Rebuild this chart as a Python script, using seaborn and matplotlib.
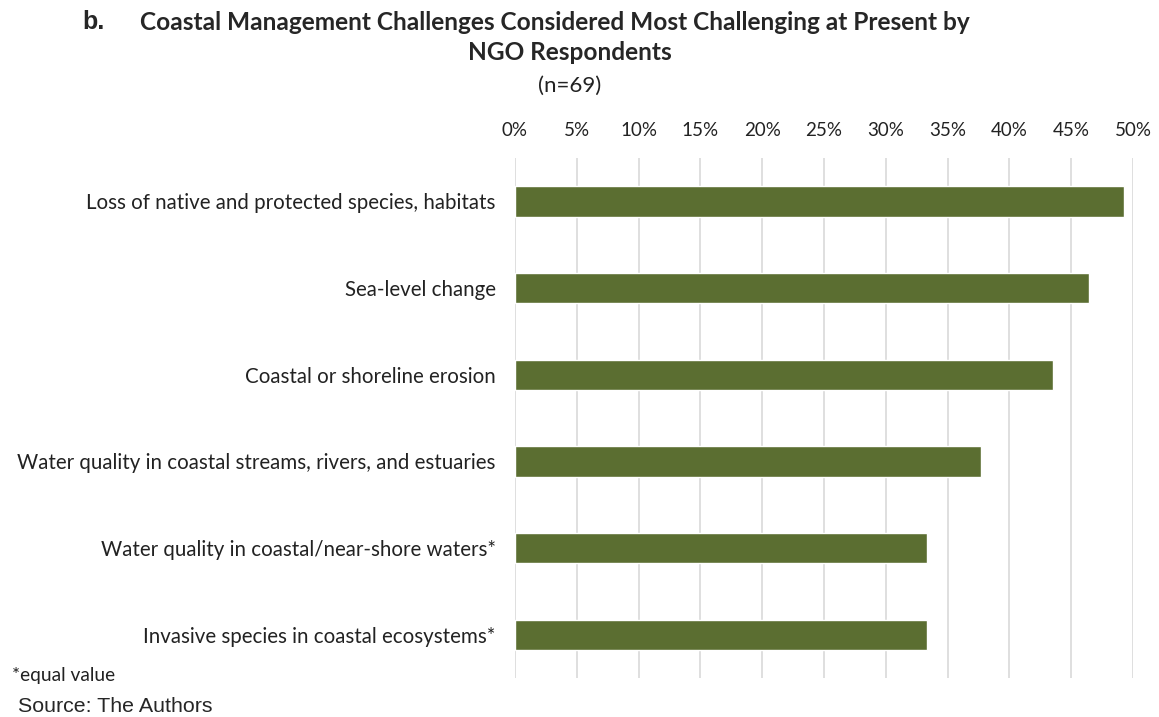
import matplotlib
matplotlib.use("Agg")
import matplotlib.pyplot as plt
import seaborn as sns
import pandas as pd
from matplotlib.ticker import PercentFormatter

categories = [
    "Loss of native and protected species, habitats",
    "Sea-level change",
    "Coastal or shoreline erosion",
    "Water quality in coastal streams, rivers, and estuaries",
    "Water quality in coastal/near-shore waters*",
    "Invasive species in coastal ecosystems*",
]
values = [49.3, 46.4, 43.5, 37.7, 33.3, 33.3]
xticks = [0, 5, 10, 15, 20, 25, 30, 35, 40, 45, 50]

sns.set_theme(style="white")
plt.rcParams['font.family'] = ['Lato', 'DejaVu Sans']

df = pd.DataFrame({"category": categories, "value": values})

fig = plt.figure(figsize=(11.59, 7.17), dpi=100)
ax = fig.add_axes([515/1159, 1-678/717, 618/1159, 520/717])
sns.barplot(data=df, x="value", y="category", color="#5B6E31", width=0.35,
            saturation=1, ax=ax, zorder=3)
ax.set_xlim(0, 50)
ax.set_ylim(5.5, -0.5)
ax.set_xticks(xticks)
ax.xaxis.set_major_formatter(PercentFormatter(decimals=0))
ax.xaxis.tick_top()
ax.tick_params(axis="x", length=0, pad=14, labelsize=13.5, colors="#222222")
ax.tick_params(axis="y", length=0, pad=14, labelsize=14.8, colors="#222222")
ax.set_xlabel("")
ax.set_ylabel("")
ax.grid(axis="x", color="#D9D9D9", linewidth=1.2, zorder=0)
for s in ax.spines.values():
    s.set_visible(False)

fig.text(82/1159, 1-22/717, "b.", fontsize=18, fontweight="bold",
         family="Liberation Sans", va="center", ha="left")
fig.text(555/1159, 1-22/717,
         "Coastal Management Challenges Considered Most Challenging at Present by",
         fontsize=17.6, fontweight="bold", va="center", ha="center")
fig.text(570/1159, 1-53/717, "NGO Respondents", fontsize=17.6, fontweight="bold",
         va="center", ha="center")
fig.text(570/1159, 1-86/717, "(n=69)", fontsize=16, va="center", ha="center",
         color="#222222")
fig.text(12/1159, 1-675/717, "*equal value", fontsize=13.8, va="center", ha="left",
         color="#222222")
fig.text(18/1159, 1-707/717, "Source: The Authors", fontsize=15.4,
         family="Liberation Sans", va="center", ha="left")

fig.savefig("out.png", dpi=100)
